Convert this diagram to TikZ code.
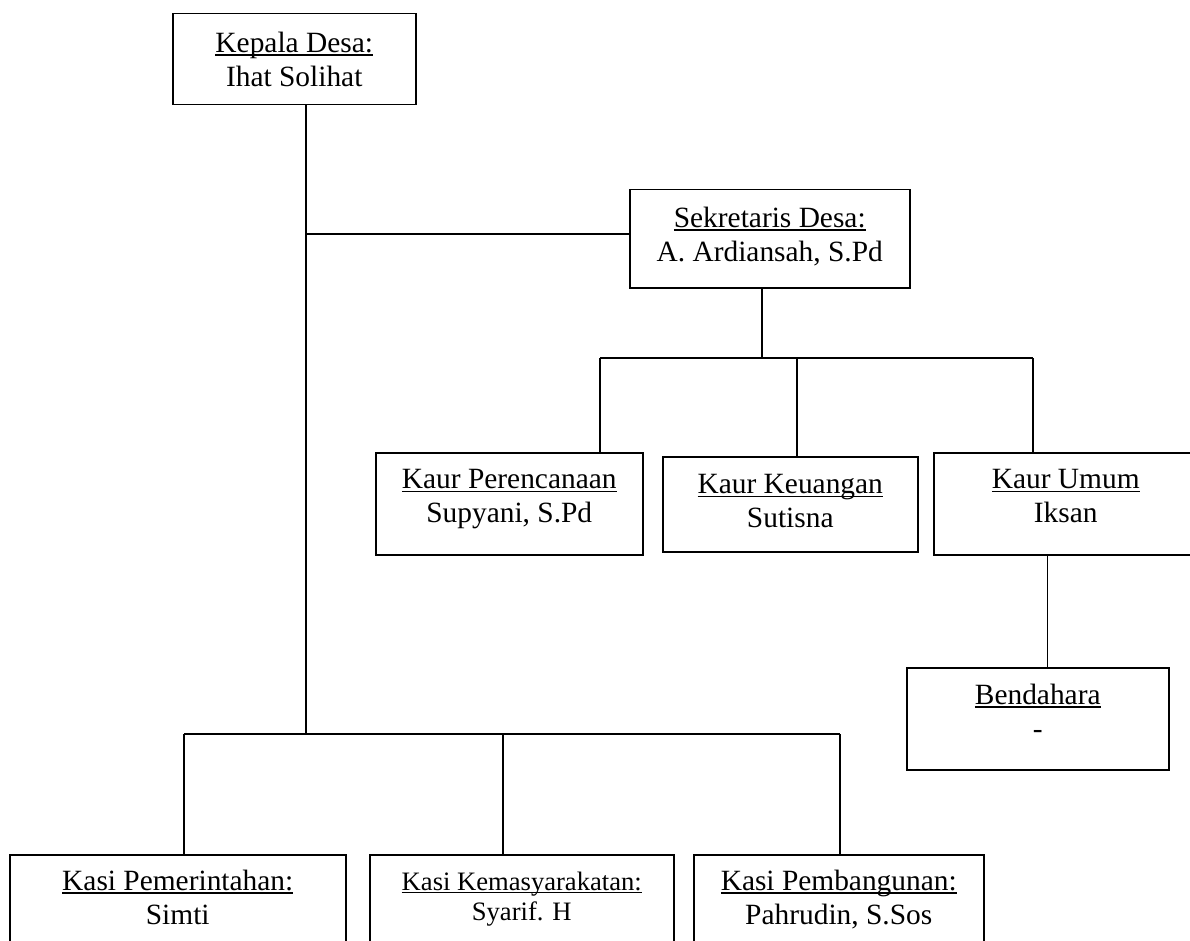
\documentclass[tikz,border=0pt]{standalone}
\usepackage{fontspec}
\setmainfont{Liberation Serif}
\usepackage{tikz}
\usetikzlibrary{positioning}

\newcommand{\garis}[1]{\setbox0\hbox{#1}\rlap{\rule[-3pt]{\wd0}{1.4pt}}\box0}

\tikzset{
        kotak/.style={draw, line width=1.5pt, anchor=north west, inner sep=0pt},
        isi/.style={align=center, inner sep=0pt, font=\fontsize{29.4pt}{34pt}\selectfont},
        isikecil/.style={isi, font=\fontsize{26.6pt}{30pt}\selectfont},
        garisan/.style={line width=1.3pt}
}

\begin{document}
\begin{tikzpicture}[x=1pt, y=-1pt]
        \useasboundingbox (0,0) rectangle (1190,941);

        \node[kotak, minimum width=243pt, minimum height=91pt] (kepala) at (172,13) {};
        \node[kotak, minimum width=280pt, minimum height=98pt] (sekdes) at (629,189) {};
        \node[kotak, minimum width=267pt, minimum height=102pt] (kaur1) at (375,452) {};
        \node[kotak, minimum width=255pt, minimum height=95pt] (kaur2) at (662,456) {};
        \node[kotak, minimum width=264pt, minimum height=102pt] (kaur3) at (933,452) {};
        \node[kotak, minimum width=262pt, minimum height=102pt] (bendahara) at (906,667) {};
        \node[kotak, minimum width=336pt, minimum height=120pt] (kasi1) at (9,854) {};
        \node[kotak, minimum width=304pt, minimum height=120pt] (kasi2) at (369,854) {};
        \node[kotak, minimum width=290pt, minimum height=120pt] (kasi3) at (693,854) {};

        \node[isi, below=19pt of kepala.north] (kepala-t) {\garis{Kepala Desa:}\\Ihat Solihat};
        \node[isi, below=18pt of sekdes.north] (sekdes-t) {\garis{Sekretaris Desa:}\\A. Ardiansah, S.Pd};
        \node[isi, below=17.5pt of kaur1.north] (kaur1-t) {\garis{Kaur Perencanaan}\\Supyani, S.Pd};
        \node[isi, below=18.5pt of kaur2.north] (kaur2-t) {\garis{Kaur Keuangan}\\Sutisna};
        \node[isi, below=17.5pt of kaur3.north] (kaur3-t) {\garis{Kaur Umum}\\Iksan};
        \node[isi, below=17pt of bendahara.north] (bendahara-t) {\garis{Bendahara}\\-};
        \node[isi, below=16pt of kasi1.north] (kasi1-t) {\garis{Kasi Pemerintahan:}\\Simti};
        \node[isikecil, below=17.8pt of kasi2.north] (kasi2-t) {\garis{Kasi Kemasyarakatan:}\\Syarif. H};
        \node[isi, below=16pt of kasi3.north] (kasi3-t) {\garis{Kasi Pembangunan:}\\Pahrudin, S.Sos};

        \coordinate (cabang) at (306,234);
        \coordinate (ktengah) at (306,734);
        \coordinate (sbawah) at (762,358);
        \coordinate (skiri) at (600,358);
        \coordinate (stengah) at (797,358);
        \coordinate (skanan) at (1033,358);
        \coordinate (kkiri) at (184,734);
        \coordinate (kmid) at (503,734);
        \coordinate (kkanan) at (840,734);

        \draw[garisan] (kepala.south -| ktengah) -- (ktengah);
        \draw[garisan] (cabang) -- (cabang -| sekdes.west);
        \draw[garisan] (sekdes.south -| sbawah) -- (sbawah);
        \draw[garisan] (skiri) -- (skanan);
        \draw[garisan] (skiri) -- (skiri |- kaur1.north);
        \draw[garisan] (stengah) -- (stengah |- kaur2.north);
        \draw[garisan] (skanan) -- (skanan |- kaur3.north);
        \draw[garisan] ([xshift=10pt]bendahara.north |- kaur3.south) -- ([xshift=10pt]bendahara.north);
        \draw[garisan] (kkiri) -- (kkanan);
        \draw[garisan] (kkiri) -- (kkiri |- kasi1.north);
        \draw[garisan] (kmid) -- (kmid |- kasi2.north);
        \draw[garisan] (kkanan) -- (kkanan |- kasi3.north);
\end{tikzpicture}
\end{document}
